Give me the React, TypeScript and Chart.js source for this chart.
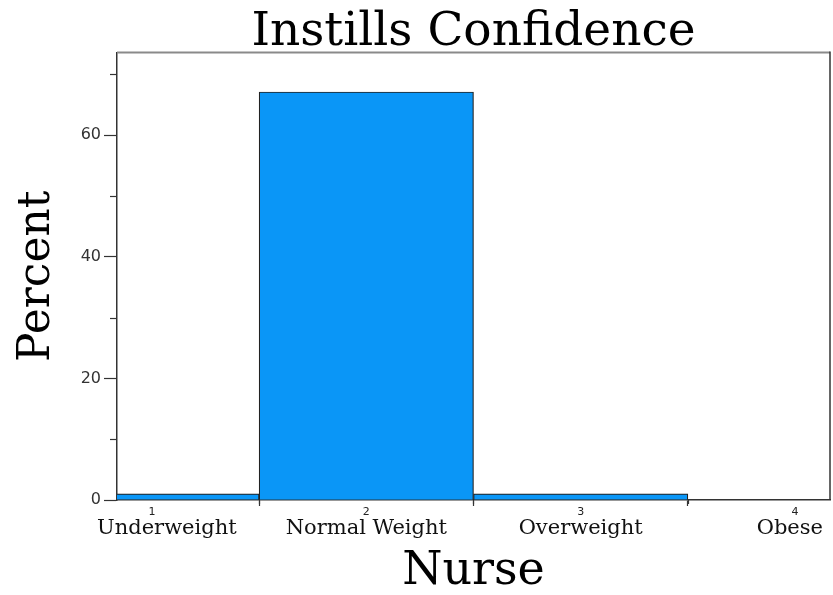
import React, { useEffect, useRef } from 'react';
import { Chart, registerables } from 'chart.js';

Chart.register(...registerables);

const TITLE = 'Instills Confidence';
const X_TITLE = 'Nurse';
const Y_TITLE = 'Percent';
const CATEGORY_CODES = [1, 2, 3, 4];
const CATEGORY_LABELS = ['Underweight', 'Normal Weight', 'Overweight', 'Obese'];
const PERCENT_VALUES = [1.0, 67.1, 1.0, 0];
const Y_TICK_VALUES = [0, 10, 20, 30, 40, 50, 60, 70];
const Y_LABELLED_TICKS = [0, 20, 40, 60];
const X_MIN = 0.837;
const X_MAX = 4.163;
const Y_MAX = 73.6;

const decorations = {
  id: 'decorations',
  afterDraw(chart: any) {
    const { ctx, chartArea: a, scales } = chart;
    const xs = scales.x;
    const ys = scales.y;
    ctx.save();
    // top and right frame lines
    ctx.strokeStyle = '#8a8a8a';
    ctx.lineWidth = 2;
    ctx.beginPath();
    ctx.moveTo(a.left, a.top);
    ctx.lineTo(a.right, a.top);
    ctx.stroke();
    ctx.strokeStyle = '#333';
    ctx.lineWidth = 1.5;
    ctx.beginPath();
    ctx.moveTo(a.right, a.top - 1);
    ctx.lineTo(a.right, a.bottom);
    ctx.stroke();
    // minor y ticks
    ctx.lineWidth = 1.2;
    Y_TICK_VALUES.filter((v) => !Y_LABELLED_TICKS.includes(v)).forEach((v) => {
      const py = Math.round(ys.getPixelForValue(v)) + 0.5;
      ctx.beginPath();
      ctx.moveTo(a.left - 7, py);
      ctx.lineTo(a.left, py);
      ctx.stroke();
    });
    // bin edge ticks
    CATEGORY_CODES.slice(0, -1).forEach((c) => {
      const px = Math.round(xs.getPixelForValue(c + 0.5)) + 0.5;
      ctx.beginPath();
      ctx.moveTo(px, a.bottom);
      ctx.lineTo(px, a.bottom + 4);
      ctx.stroke();
    });
    // small category codes
    ctx.fillStyle = '#222';
    ctx.textAlign = 'center';
    ctx.textBaseline = 'middle';
    ctx.font = '11px "DejaVu Sans"';
    CATEGORY_CODES.forEach((c) => {
      ctx.fillText(String(c), xs.getPixelForValue(c), a.bottom + 12);
    });
    // category labels
    ctx.fillStyle = '#111';
    ctx.font = '21px "DejaVu Serif"';
    ctx.textAlign = 'left';
    CATEGORY_LABELS.forEach((lab, i) => {
      const cx = xs.getPixelForValue(CATEGORY_CODES[i]);
      const w = ctx.measureText(lab).width;
      let left = cx - w / 2;
      left = Math.max(left, a.left - 20);
      left = Math.min(left, a.right - 7 - w);
      ctx.fillText(lab, left, a.bottom + 29);
    });
    ctx.restore();
  },
};

export default function App() {
  const canvasRef = useRef<HTMLCanvasElement | null>(null);

  useEffect(() => {
    if (!canvasRef.current) return;
    const chart = new Chart(canvasRef.current, {
      type: 'bar',
      data: {
        datasets: [
          {
            data: CATEGORY_CODES.map((c, i) => ({ x: c, y: PERCENT_VALUES[i] })),
            backgroundColor: '#0a96f7',
            borderColor: '#222',
            borderWidth: 1.2,
            barPercentage: 1,
            categoryPercentage: 1,
          },
        ],
      },
      options: {
        responsive: false,
        animation: false,
        devicePixelRatio: 1,
        layout: { padding: { left: 0, right: 3, top: 0, bottom: 0 } },
        plugins: {
          legend: { display: false },
          tooltip: { enabled: false },
          title: {
            display: true,
            fullSize: false,
            text: TITLE,
            color: '#000',
            font: { family: 'DejaVu Serif', size: 47, weight: 'normal', lineHeight: 0.84 },
            padding: { top: 13, bottom: 0 },
          },
        },
        scales: {
          x: {
            type: 'linear',
            min: X_MIN,
            max: X_MAX,
            offset: false,
            afterBuildTicks: (s: any) => {
              s.ticks = CATEGORY_CODES.map((v) => ({ value: v }));
            },
            afterFit: (s: any) => {
              s.height = 95;
            },
            ticks: { display: false },
            grid: { drawOnChartArea: false, drawTicks: true, tickLength: 6, tickColor: '#333', tickWidth: 1.2 },
            border: { display: true, color: '#333', width: 1.5 },
            title: {
              display: true,
              text: X_TITLE,
              color: '#000',
              font: { family: 'DejaVu Serif', size: 46, weight: 'normal', lineHeight: 1 },
              padding: { top: 0, bottom: 0 },
            },
          },
          y: {
            min: 0,
            max: Y_MAX,
            afterBuildTicks: (s: any) => {
              s.ticks = Y_TICK_VALUES.map((v) => ({ value: v }));
            },
            afterFit: (s: any) => {
              s.width = 117;
            },
            ticks: {
              callback: (v: any) => (Y_LABELLED_TICKS.includes(Number(v)) ? String(v) : ''),
              font: { family: 'DejaVu Sans', size: 16 },
              color: '#333',
              padding: 3,
            },
            grid: {
              drawOnChartArea: false,
              tickLength: 13,
              tickWidth: 1.2,
              tickColor: (c: any) => (c.tick && Y_LABELLED_TICKS.includes(c.tick.value) ? '#333' : 'rgba(0,0,0,0)'),
            },
            border: { display: true, color: '#333', width: 1.5 },
            title: {
              display: true,
              text: Y_TITLE,
              color: '#000',
              font: { family: 'DejaVu Serif', size: 44, weight: 'normal', lineHeight: 1.2 },
              padding: { top: 11, bottom: 0 },
            },
          },
        },
      } as any,
      plugins: [decorations],
    });
    return () => chart.destroy();
  }, []);

  return (
    <div style={{ position: 'absolute', left: 0, top: 0, width: 833, height: 595, background: '#fff' }}>
      <canvas ref={canvasRef} width={833} height={595} />
    </div>
  );
}
